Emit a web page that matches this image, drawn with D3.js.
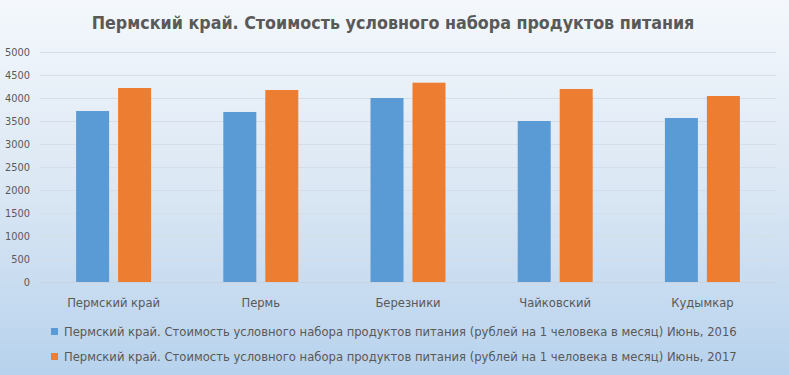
<!DOCTYPE html>
<html><head><meta charset="utf-8">
<script src="https://cdn.jsdelivr.net/npm/d3@7/dist/d3.min.js"></script>
<style>html,body{margin:0;padding:0;overflow:hidden}</style>
</head><body>
<svg id="chart" width="789" height="375"></svg>
<script>
const categories = ["Пермский край", "Пермь", "Березники", "Чайковский", "Кудымкар"];
const seriesNames = [
  "Пермский край. Стоимость условного набора продуктов питания (рублей на 1 человека в месяц) Июнь, 2016",
  "Пермский край. Стоимость условного набора продуктов питания (рублей на 1 человека в месяц) Июнь, 2017"
];
const values2016 = [3717, 3696, 4000, 3500, 3565];
const values2017 = [4217, 4174, 4333, 4196, 4043];
const yTicks = [0, 500, 1000, 1500, 2000, 2500, 3000, 3500, 4000, 4500, 5000];
const title = "Пермский край. Стоимость условного набора продуктов питания";
const colors = ["#5b9bd5", "#ed7d31"];

const W = 789, H = 375;
const svg = d3.select("#chart");
const defs = svg.append("defs");
const grad = defs.append("linearGradient").attr("id","bg").attr("x1",0).attr("y1",0).attr("x2",0).attr("y2",1);
grad.append("stop").attr("offset","0%").attr("stop-color","#f4f8fc");
grad.append("stop").attr("offset","50%").attr("stop-color","#dbe7f4");
grad.append("stop").attr("offset","100%").attr("stop-color","#b7d2ed");
svg.append("rect").attr("width",W).attr("height",H).attr("fill","url(#bg)");

const font = "'Liberation Sans Narrow', 'DejaVu Sans Condensed', 'Open Sans', sans-serif";
const plot = {left: 40, right: 776, top: 52, bottom: 282};

// scale a text's font size so it spans a given width
function fitWidth(sel, target) {
  const n = sel.node();
  const fs = parseFloat(sel.attr("font-size"));
  const w = n.getComputedTextLength();
  if (w > 0) sel.attr("font-size", (fs * target / w).toFixed(2));
}

const x0 = d3.scaleBand().domain(categories).range([plot.left, plot.right]).paddingInner(0).paddingOuter(0);
const x1 = d3.scaleBand().domain([0,1]).range([0, x0.bandwidth()]).paddingInner(0.214).paddingOuter(0.86);
const y = d3.scaleLinear().domain([0, 5000]).range([plot.bottom, plot.top]);

// gridlines
svg.append("g").selectAll("line").data(yTicks).join("line")
  .attr("x1", plot.left).attr("x2", plot.right)
  .attr("y1", d => Math.round(y(d)) + 0.5).attr("y2", d => Math.round(y(d)) + 0.5)
  .attr("stroke", d => d === 0 ? "#c8d3df" : "#d5dde6").attr("stroke-width", 1);

// y axis
const yAxis = d3.axisLeft(y).tickValues(yTicks).tickFormat(d3.format("d")).tickSize(0).tickPadding(0);
const gy = svg.append("g").attr("transform", `translate(30,0)`).call(yAxis);
gy.select(".domain").remove();
gy.selectAll("text").attr("font-family", font).attr("font-size", 12).attr("fill", "#595959");
const tk = gy.selectAll("text").filter(d => d === 5000);
const tkw = tk.node().getComputedTextLength();
gy.selectAll("text").attr("font-size", (12 * 25 / tkw).toFixed(2));

// bars
const data = categories.map((c, i) => ({c, v: [values2016[i], values2017[i]]}));
const groups = svg.append("g").selectAll("g").data(data).join("g")
  .attr("transform", d => `translate(${x0(d.c)},0)`);
groups.selectAll("rect").data(d => d.v.map((v, s) => ({v, s}))).join("rect")
  .attr("x", d => x1(d.s)).attr("width", x1.bandwidth())
  .attr("y", d => y(d.v)).attr("height", d => y(0) - y(d.v))
  .attr("fill", d => colors[d.s]);

// x axis
const xAxis = d3.axisBottom(x0).tickSize(0).tickPadding(0);
const gx = svg.append("g").attr("transform", `translate(0,${plot.bottom})`).call(xAxis);
gx.select(".domain").remove();
gx.selectAll("text").attr("dy", null).attr("y", 25).attr("font-family", font).attr("font-size", 14).attr("fill", "#595959");
const first = gx.selectAll("text").filter(d => d === categories[0]);
const fw = first.node().getComputedTextLength();
gx.selectAll("text").attr("font-size", (14 * 93 / fw).toFixed(2));

// title
const tt = svg.append("text").attr("x", 393).attr("y", 29).attr("text-anchor", "middle")
  .attr("font-family", font).attr("font-weight", "bold").attr("font-size", 20).attr("fill", "#595959")
  .text(title);
fitWidth(tt, 603);

// legend
const lg = svg.append("g").selectAll("g").data(seriesNames).join("g")
  .attr("transform", (d, i) => `translate(51,${328 + i * 25})`);
lg.append("rect").attr("width", 7).attr("height", 7).attr("fill", (d, i) => colors[i]);
lg.append("text").attr("x", 13).attr("y", 7.5).attr("font-family", font).attr("font-size", 14).attr("fill", "#595959").text(d => d)
  .each(function() { fitWidth(d3.select(this), 673); });
</script>
</body></html>
